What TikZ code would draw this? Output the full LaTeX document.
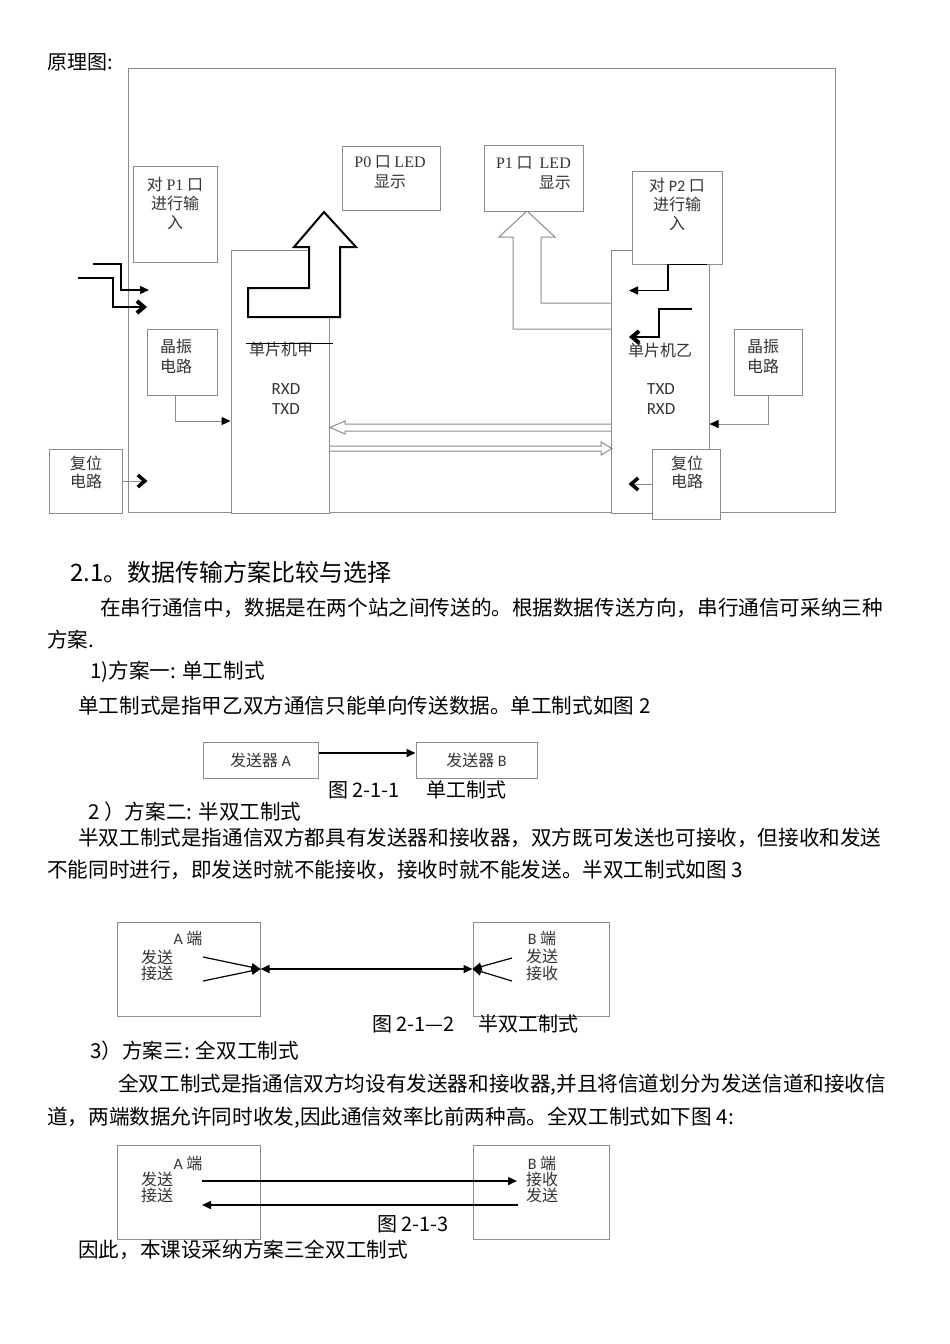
\documentclass[tikz,border=0pt]{standalone}
\usepackage{fontspec}
\setmainfont{Noto Sans CJK SC}
\newfontfamily\calib{Carlito}
\newfontfamily\song{Liberation Serif}
\usepackage{xcolor}
\usetikzlibrary{arrows.meta}
\definecolor{mygray}{gray}{0.55}
\definecolor{mytext}{gray}{0.2}

\begin{document}
\begin{tikzpicture}[x=1pt,y=-1pt,
box/.style={draw=mygray, line width=1pt, fill=white, inner sep=0pt},
lbl/.style={text=mytext, font=\fontsize{16}{19}\selectfont, align=center, inner sep=0pt},
txt/.style={anchor=west, inner sep=0pt, font=\fontsize{20.6}{24}\selectfont},
captxt/.style={anchor=west, inner sep=0pt, font=\fontsize{20}{22}\selectfont},
tri/.style={-{Triangle[length=9pt,width=8pt,color=black]}},
chev/.style={-{Straight Barb[length=7pt,width=12pt,line width'=2.5pt 0 1,color=black]}}]
\useasboundingbox (0,0) rectangle (950,1344);
\fill[white] (0,0) rectangle (950,1344);

% schematic
\node[anchor=west, inner sep=0pt, font=\fontsize{20}{22}\selectfont] (title) at (47,62) {原理图:};
\draw[mygray, line width=1pt] (128,68) rectangle (835,512);

\node[box, minimum width=98pt, minimum height=263pt] (mcuA) at (280,381.5) {};
\node[box, minimum width=98pt, minimum height=263pt] (mcuB) at (660,381.5) {};

\draw[black, line width=2pt, fill=white] (248,288) -- (309,288) -- (309,247) -- (294,247) -- (324,212)
  -- (356,247) -- (340,247) -- (340,317) -- (248,317) -- cycle;
\draw[mygray, line width=1pt] (611,303) -- (541,303) -- (541,237) -- (555,237) -- (527,211)
  -- (499,237) -- (513,237) -- (513,329) -- (611,329);

\node[box, minimum width=98pt, minimum height=64pt] (ledA) at (391,178) {};
\node[lbl, font=\fontsize{16}{20}\selectfont] (ledAt) at (390,172) {{\song P0} 口 {\song LED}\\显示};
\node[box, minimum width=99pt, minimum height=66pt] (ledB) at (533.5,178) {};
\node[lbl, font=\fontsize{16}{20}\selectfont, align=right, anchor=east] (ledBt) at (571,173) {{\song P1} 口\ \ {\song LED}\\显示};

\node[box, minimum width=84pt, minimum height=96pt] (inA) at (175,214) {};
\node[lbl] (inAt) at (175,203) {对 {\song P1} 口\\进行输\\入};
\node[box, minimum width=90pt, minimum height=93pt] (inB) at (677,217.5) {};
\node[lbl] (inBt) at (677,204) {对 {\calib P2} 口\\进行输\\入};

\node[box, minimum width=70pt, minimum height=66pt] (xtalA) at (182,362) {};
\node[lbl, font=\fontsize{16}{20}\selectfont] (xtalAt) at (176,356) {晶振\\电路};
\node[box, minimum width=68pt, minimum height=66pt] (xtalB) at (768,362) {};
\node[lbl, font=\fontsize{16}{20}\selectfont] (xtalBt) at (763,356) {晶振\\电路};

\node[box, minimum width=73pt, minimum height=64pt] (rstA) at (85.5,481) {};
\node[lbl, font=\fontsize{16}{18}\selectfont] (rstAt) at (86,472) {复位\\电路};

\node[lbl] (mcuAn) at (281,349) {单片机甲};
\node[lbl, font=\calib\fontsize{17}{20}\selectfont] (mcuAp) at (286,399) {RXD\\TXD};
\node[lbl] (mcuBn) at (660,350) {单片机乙};
\node[lbl, font=\calib\fontsize{17}{20}\selectfont] (mcuBp) at (661,399) {TXD\\RXD};
\draw[black, line width=1pt] (246,343) -- (333,343);

% serial link
\draw[mygray, line width=1pt] (611,424) -- (345,424) -- (345,421) -- (330,427.5) -- (345,434) -- (345,431) -- (611,431);
\draw[mygray, line width=1pt] (329,446) -- (601,446) -- (601,442) -- (612,448.5) -- (601,455) -- (601,451) -- (329,451);

% inputs
\coordinate (inA1) at (93,264);
\coordinate (inA2) at (78,278);
\coordinate (inB2) at (692,309);
\draw[black, line width=1.5pt, tri] (inA1) -- (121,264) -- (121,290) -- (149,290);
\draw[black, line width=1.5pt, chev] (inA2) -- (113,278) -- (113,307) -- (147,307);
\draw[black, line width=1.5pt, tri] ([xshift=30pt]inB.south) -- ++(-39,0) -- ++(0,26) -- ++(-39,0);
\draw[black, line width=1.5pt, chev] (inB2) -- ++(-33,0) -- ++(0,28) -- ++(-30,0);

\draw[mygray, line width=1pt, tri] ([xshift=-7pt]xtalA.south) |- ([yshift=-39.5pt]mcuA.west);
\draw[mygray, line width=1pt, tri] (xtalB.south) |- ([yshift=-42.5pt]mcuB.east);
\draw[mygray, line width=1pt, chev] (rstA.east) -- ++(25,0);

\node[box, minimum width=68pt, minimum height=70pt] (rstB) at (686,484) {};
\node[lbl, font=\fontsize{16}{18}\selectfont] (rstBt) at (687,472) {复位\\电路};
\draw[mygray, line width=1pt, chev] (rstB.west) -- ++(-23,0);

% text
\node[anchor=west, inner sep=0pt, font=\fontsize{24}{26}\selectfont] (sec) at (70,572) {2.1。数据传输方案比较与选择};
\node[txt] (p1) at (100,608) {在串行通信中，数据是在两个站之间传送的。根据数据传送方向，串行通信可采纳三种};
\node[txt] (p2) at (47,640) {方案.};
\node[txt] (s1) at (90,672) {1)方案一: 单工制式};
\node[txt] (p3) at (78,706) {单工制式是指甲乙双方通信只能单向传送数据。单工制式如图 2};

% simplex
\node[box, lbl, draw=mygray, minimum width=115pt, minimum height=36pt] (sendA) at (260.5,760) {发送器 {\calib A}};
\node[box, lbl, draw=mygray, minimum width=121pt, minimum height=36pt] (sendB) at (476.5,760) {发送器 {\calib B}};
\draw[black, line width=1.5pt, tri] ([yshift=7pt]sendA.east) -- ([yshift=7pt]sendB.west);
\node[captxt] (c1) at (328,790) {图 2-1-1\hspace{27pt}单工制式};

\node[txt] (s2) at (88,812) {2 ）方案二: 半双工制式};
\node[txt] (p4) at (78,838) {半双工制式是指通信双方都具有发送器和接收器，双方既可发送也可接收，但接收和发送};
\node[txt] (p5) at (47,870) {不能同时进行，即发送时就不能接收，接收时就不能发送。半双工制式如图 3};

% half duplex
\node[box, minimum width=143pt, minimum height=94pt] (halfA) at (188.5,969) {};
\node[lbl] (halfAn) at (188,938) {{\calib A} 端};
\node[lbl, font=\fontsize{16}{16}\selectfont] (halfAt) at (157,965) {发送\\接送};
\node[box, minimum width=136pt, minimum height=94pt] (halfB) at (541,969) {};
\node[lbl, font=\fontsize{16}{17.5}\selectfont] (halfBt) at (542,956) {{\calib B} 端\\发送\\接收};
\coordinate (hA1) at (203,957);
\coordinate (hA2) at (203,981);
\coordinate (hB1) at (512,958);
\coordinate (hB2) at (512,981);
\draw[black, line width=1.2pt, tri] (hA1) -- (halfA.east);
\draw[black, line width=1.2pt, tri] (hA2) -- (halfA.east);
\draw[black, line width=1.2pt, tri] (hB1) -- (halfB.west);
\draw[black, line width=1.2pt, tri] (hB2) -- (halfB.west);
\draw[black, line width=1.5pt, {Triangle[length=9pt,width=8pt]}-{Triangle[length=9pt,width=8pt]}] (halfA.east) -- (halfB.west);
\node[captxt] (c2) at (372,1024) {图 2-1—2\hspace{24pt}半双工制式};

\node[txt] (s3) at (90,1051) {3）方案三: 全双工制式};
\node[txt] (p6) at (118,1085) {全双工制式是指通信双方均设有发送器和接收器,并且将信道划分为发送信道和接收信};
\node[txt] (p7) at (47,1118) {道，两端数据允许同时收发,因此通信效率比前两种高。全双工制式如下图 4:};

% full duplex
\node[box, minimum width=143pt, minimum height=94pt] (fullA) at (188.5,1192) {};
\node[lbl] (fullAn) at (188,1163) {{\calib A} 端};
\node[lbl, font=\fontsize{16}{16}\selectfont] (fullAt) at (157,1187) {发送\\接送};
\node[box, minimum width=136pt, minimum height=94pt] (fullB) at (541,1192) {};
\node[lbl, font=\fontsize{16}{16}\selectfont] (fullBt) at (542,1179) {{\calib B} 端\\接收\\发送};
\coordinate (fA1) at (202,1181);
\coordinate (fB1) at (517,1181);
\coordinate (fB2) at (518,1205);
\coordinate (fA2) at (202,1205);
\draw[black, line width=1.5pt, tri] (fA1) -- (fB1);
\draw[black, line width=1.5pt, tri] (fB2) -- (fA2);
\node[captxt] (c3) at (377,1224) {图 2-1-3};

\node[txt] (p8) at (78,1250) {因此，本课设采纳方案三全双工制式};
\end{tikzpicture}
\end{document}
